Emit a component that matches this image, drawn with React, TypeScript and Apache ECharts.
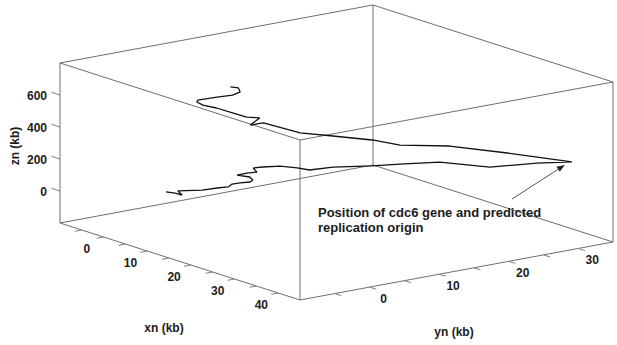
import React, { useEffect, useRef } from "react";
import * as echarts from "echarts";

// ---- data: 3D DNA walk (kb) ----
const XN = [4.3, 6.1, 8.0, 5.6, 8.6, 9.8, 10.9, 10.2, 10.8, 11.8, 11.3, 9.8, 8.0, 8.2, 8.9, 6.9, 7.8, 9.7, 13.0, 15.7, 17.7, 22.8, 25.9, 30.7, 40.1, 45.0, 48.7, 41.4, 36.3, 33.9, 30.7, 27.4, 24.7, 19.3, 19.5, 17.8, 16.9, 14.8, 12.2, 10.7, 9.3, 9.2, 10.9, 12.4, 12.7, 11.5, 11.1];
const YN = [-0.6, -0.4, -0.6, 0.3, 1.9, 3.3, 4.2, 5.2, 6.0, 6.8, 7.5, 8.0, 7.3, 8.6, 9.6, 10.3, 11.1, 12.4, 12.8, 12.9, 15.0, 17.4, 19.5, 22.2, 23.5, 27.2, 29.9, 25.2, 20.1, 14.5, 12.5, 8.9, 5.9, 4.0, 2.0, 4.4, 3.1, 2.5, 1.7, 0.7, 0.7, 0.9, 2.6, 3.9, 4.8, 5.3, 4.4];
const ZN = [0, 7, 13, 10, 29, 41, 50, 54, 60, 68, 70, 72, 74, 78, 82, 84, 92, 104, 118, 128, 147, 179, 201, 234, 274, 312, 330, 360, 400, 430, 450, 475, 495, 525, 530, 540, 548, 560, 575, 588, 595, 605, 625, 640, 655, 665, 675];
const ORIGIN_INDEX = 26;

// ---- axes ----
const X_RANGE = [-5, 50];
const Y_RANGE = [-10, 35];
const Z_RANGE = [-200, 800];
const X_TICKS = [0, 5, 10, 15, 20, 25, 30, 35, 40, 45];
const X_LABELS = [0, 10, 20, 30, 40];
const Y_TICKS = [-5, 0, 5, 10, 15, 20, 25, 30];
const Y_LABELS = [0, 10, 20, 30];
const Z_TICKS = [0, 200, 400, 600];
const Z_LABELS = [0, 200, 400, 600];
const X_TITLE = "xn (kb)";
const Y_TITLE = "yn (kb)";
const Z_TITLE = "zn (kb)";
const NOTE = ["Position of cdc6 gene and predicted", "replication origin"];

// ---- layout (projection of the box) ----
const W = 617;
const H = 345;
const E = [60, 223]; // (xmin, ymin, zmin)
const F = [300, 300]; // (xmax, ymin, zmin)
const G = [613, 242]; // (xmax, ymax, zmin)
const BOX_H = 160;
const FONT = 'Arial, "Liberation Sans", Helvetica, sans-serif';
const TEXT = "#1c1c1c";

function project(x: number, y: number, z: number): number[] {
  const tx = (x - X_RANGE[0]) / (X_RANGE[1] - X_RANGE[0]);
  const ty = (y - Y_RANGE[0]) / (Y_RANGE[1] - Y_RANGE[0]);
  const tz = (z - Z_RANGE[0]) / (Z_RANGE[1] - Z_RANGE[0]);
  return [
    E[0] + tx * (F[0] - E[0]) + ty * (G[0] - F[0]),
    E[1] + tx * (F[1] - E[1]) + ty * (G[1] - F[1]) - tz * BOX_H,
  ];
}

export default function App() {
  const ref = useRef<HTMLDivElement>(null);
  useEffect(() => {
    if (!ref.current) return;
    const chart = echarts.init(ref.current, null, { renderer: "svg" });
    const [x0, x1] = X_RANGE;
    const [y0, y1] = Y_RANGE;
    const [z0, z1] = Z_RANGE;
    const corners = [
      [x0, y0], [x1, y0], [x1, y1], [x0, y1],
    ];
    const edges: number[][][] = [];
    for (let i = 0; i < 4; i++) {
      const a = corners[i];
      const b = corners[(i + 1) % 4];
      edges.push([[a[0], a[1], z0], [b[0], b[1], z0]]);
      edges.push([[a[0], a[1], z1], [b[0], b[1], z1]]);
      edges.push([[a[0], a[1], z0], [a[0], a[1], z1]]);
    }
    const curve = XN.map((x, i) => project(x, YN[i], ZN[i]));

    const renderStatic = (_p: any, api: any) => {
      const c = (pt: number[]) => api.coord(project(pt[0], pt[1], pt[2]));
      const children: any[] = [];
      const lineStyle = { stroke: "#6e6e6e", lineWidth: 1 };
      edges.forEach(([a, b]) => {
        const p = c(a);
        const q = c(b);
        children.push({ type: "line", shape: { x1: p[0], y1: p[1], x2: q[0], y2: q[1] }, style: lineStyle });
      });
      const tickStyle = { stroke: "#808080", lineWidth: 1 };
      X_TICKS.forEach((v) => {
        const p = c([v, y0, z0]);
        const q = c([v, y0 - 1, z0]);
        children.push({ type: "line", shape: { x1: p[0], y1: p[1], x2: q[0], y2: q[1] }, style: tickStyle });
      });
      Y_TICKS.forEach((v) => {
        const p = c([x1, v, z0]);
        const q = c([x1 + 1.5, v, z0]);
        children.push({ type: "line", shape: { x1: p[0], y1: p[1], x2: q[0], y2: q[1] }, style: tickStyle });
      });
      Z_TICKS.forEach((v) => {
        const p = c([x0, y0, v]);
        const q = c([x0 - 2, y0, v]);
        children.push({ type: "line", shape: { x1: p[0], y1: p[1], x2: q[0], y2: q[1] }, style: tickStyle });
      });
      const txt = (s: string, x: number, y: number, align: string, size = 12, rot = 0) => ({
        type: "text",
        x,
        y,
        rotation: rot,
        style: {
          text: s,
          fill: TEXT,
          fontSize: size,
          fontWeight: "bold",
          fontFamily: FONT,
          align,
          verticalAlign: "middle",
        },
      });
      X_LABELS.forEach((v) => {
        const p = c([v, y0, z0]);
        children.push(txt(String(v), p[0] + 5, p[1] + 19, "center"));
      });
      Y_LABELS.forEach((v) => {
        const p = c([x1, v, z0]);
        children.push(txt(String(v), p[0] + 14, p[1] + 12, "center"));
      });
      Z_LABELS.forEach((v) => {
        const p = c([x0, y0, v]);
        children.push(txt(String(v), p[0] - 13, p[1] + 1, "right"));
      });
      children.push(txt(X_TITLE, 164, 328, "center"));
      children.push(txt(Y_TITLE, 454, 332, "center"));
      children.push(txt(Z_TITLE, 15, 146, "center", 12, Math.PI / 2));
      children.push(txt(NOTE[0], 318, 212, "left", 13));
      children.push(txt(NOTE[1], 318, 227, "left", 13));
      // arrow from the note to the origin point of the walk
      const tip = c([XN[ORIGIN_INDEX], YN[ORIGIN_INDEX], ZN[ORIGIN_INDEX]]);
      const ex = tip[0] - 7;
      const ey = tip[1] + 3;
      const sx = 512;
      const sy = 199;
      const dx = ex - sx;
      const dy = ey - sy;
      const len = Math.sqrt(dx * dx + dy * dy);
      const ux = dx / len;
      const uy = dy / len;
      const hl = 8;
      const hw = 3;
      const bx = ex - ux * hl;
      const by = ey - uy * hl;
      children.push({ type: "line", shape: { x1: sx, y1: sy, x2: bx, y2: by }, style: { stroke: "#555", lineWidth: 1 } });
      children.push({
        type: "polygon",
        shape: { points: [[ex, ey], [bx - uy * hw, by + ux * hw], [bx + uy * hw, by - ux * hw]] },
        style: { fill: "#222" },
      });
      return { type: "group", children };
    };

    chart.setOption({
      animation: false,
      backgroundColor: "#ffffff",
      grid: { left: 0, right: 0, top: 0, bottom: 0 },
      xAxis: { type: "value", min: 0, max: W, show: false },
      yAxis: { type: "value", min: 0, max: H, inverse: true, show: false },
      series: [
        {
          type: "custom",
          renderItem: renderStatic,
          data: [[0, 0]],
          silent: true,
          z: 1,
        },
        {
          type: "line",
          data: curve,
          showSymbol: false,
          symbol: "none",
          lineStyle: { color: "#111111", width: 1.3 },
          z: 2,
        },
      ],
    });
    return () => chart.dispose();
  }, []);
  return (
    <div
      ref={ref}
      style={{ position: "fixed", left: 0, top: 0, width: W, height: H, background: "#fff" }}
    />
  );
}
